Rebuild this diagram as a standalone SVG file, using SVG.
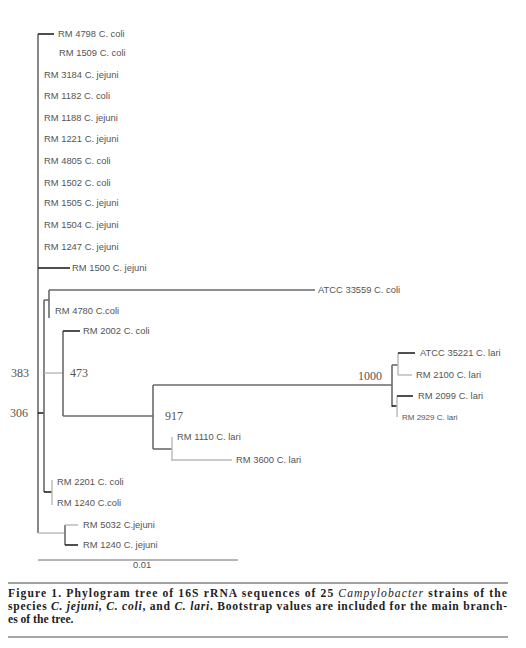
<svg xmlns="http://www.w3.org/2000/svg" width="526" height="648" viewBox="0 0 526 648">
<style>
.bg{fill:#fff}
.d{stroke:#222;stroke-width:1.6;fill:none}
.m{stroke:#6a6a6a;stroke-width:1.6;fill:none}
.l{stroke:#b8b8b8;stroke-width:1.4;fill:none}
.lab{font-family:"Liberation Sans",Arial,sans-serif;font-size:9.4px;fill:#555}
.bs{font-family:"Liberation Serif","Times New Roman",serif;font-size:12px;fill:#555}
.cap{font-family:"Liberation Serif","Times New Roman",serif;font-size:11.6px;font-weight:bold;fill:#222}
</style>
<rect class="bg" x="0" y="0" width="526" height="648"/>
<g id="connectors">
  <path class="m" d="M38 34V533"/>
  <path class="d" d="M38 34H54"/>
  <path class="d" d="M38 268H70"/>
  <path class="d" d="M38 413H44"/>
  <path class="l" d="M38 533H65"/>
  <path class="m" d="M44 300V492"/>
  <path class="m" d="M44 300H49"/>
  <path class="m" d="M49 290V318"/>
  <path class="m" d="M49 290H315"/>
  <path class="l" d="M44 373H63"/>
  <path class="m" d="M63 331V416"/>
  <path class="d" d="M63 331H80"/>
  <path class="m" d="M63 416H153"/>
  <path class="m" d="M153 385V449"/>
  <path class="m" d="M153 385H392"/>
  <path class="m" d="M153 449H172"/>
  <path class="l" d="M172 437V461"/>
  <path class="l" d="M172 460H232"/>
  <path class="m" d="M392 365V407"/>
  <path class="m" d="M392 365H398"/>
  <path class="l" d="M398 353V375"/>
  <path class="d" d="M398 353H415"/>
  <path class="l" d="M398 375H412"/>
  <path class="d" d="M392 406H397"/>
  <path class="l" d="M397 396V417"/>
  <path class="d" d="M397 396H413"/>
  <path class="d" d="M44 492H52"/>
  <path class="l" d="M52 480V505"/>
  <path class="m" d="M65 525V545"/>
  <path class="l" d="M65 525H78"/>
  <path class="d" d="M65 545H78"/>
  <path class="m" d="M38 560H238" style="stroke-width:1"/>
</g>
<g id="leaves">
  <g id="n1"><text class="lab" x="58" y="37">RM 4798 C. coli</text></g>
  <g id="n2"><text class="lab" x="59" y="56">RM 1509 C. coli</text></g>
  <g id="n3"><text class="lab" x="44" y="78">RM 3184 C. jejuni</text></g>
  <g id="n4"><text class="lab" x="44" y="99">RM 1182 C. coli</text></g>
  <g id="n5"><text class="lab" x="44" y="121">RM 1188 C. jejuni</text></g>
  <g id="n6"><text class="lab" x="44" y="142">RM 1221 C. jejuni</text></g>
  <g id="n7"><text class="lab" x="44" y="164">RM 4805 C. coli</text></g>
  <g id="n8"><text class="lab" x="44" y="186">RM 1502 C. coli</text></g>
  <g id="n9"><text class="lab" x="44" y="206">RM 1505 C. jejuni</text></g>
  <g id="n10"><text class="lab" x="44" y="228">RM 1504 C. jejuni</text></g>
  <g id="n11"><text class="lab" x="44" y="250">RM 1247 C. jejuni</text></g>
  <g id="n12"><text class="lab" x="72" y="271">RM 1500 C. jejuni</text></g>
  <g id="n13"><text class="lab" x="318" y="293">ATCC 33559 C. coli</text></g>
  <g id="n14"><text class="lab" x="55" y="314">RM 4780 C.coli</text></g>
  <g id="n15"><text class="lab" x="83" y="334">RM 2002 C. coli</text></g>
  <g id="n16"><text class="lab" x="420" y="356">ATCC 35221 C. lari</text></g>
  <g id="n17"><text class="lab" x="416" y="378">RM 2100 C. lari</text></g>
  <g id="n18"><text class="lab" x="418" y="399">RM 2099 C. lari</text></g>
  <g id="n19"><text class="lab" x="402" y="420" style="font-size:8px">RM 2929 C. lari</text></g>
  <g id="n20"><text class="lab" x="177" y="440">RM 1110 C. lari</text></g>
  <g id="n21"><text class="lab" x="236" y="463">RM 3600 C. lari</text></g>
  <g id="n22"><text class="lab" x="57" y="485">RM 2201 C. coli</text></g>
  <g id="n23"><text class="lab" x="57" y="506">RM 1240 C.coli</text></g>
  <g id="n24"><text class="lab" x="83" y="528">RM 5032 C.jejuni</text></g>
  <g id="n25"><text class="lab" x="83" y="548">RM 1240 C. jejuni</text></g>
</g>
<g id="bootstrap">
  <g id="b383"><text class="bs" x="11" y="377">383</text></g>
  <g id="b306"><text class="bs" x="10" y="417">306</text></g>
  <g id="b473"><text class="bs" x="70" y="377">473</text></g>
  <g id="b917"><text class="bs" x="165" y="420">917</text></g>
  <g id="b1000"><text class="bs" x="358" y="380">1000</text></g>
</g>
<g id="scale"><text class="lab" x="133" y="568">0.01</text></g>
<g id="caption">
  <path d="M8 583H508" stroke="#444" stroke-width="1"/>
  <text class="cap" x="8" y="597" textLength="499" lengthAdjust="spacing">Figure 1. Phylogram tree of 16S rRNA sequences of 25 <tspan font-style="italic" font-weight="normal">Campylobacter</tspan> strains of the</text>
  <text class="cap" x="8" y="610" textLength="499" lengthAdjust="spacing">species <tspan font-style="italic">C. jejuni, C. coli</tspan>, and <tspan font-style="italic">C. lari</tspan>. Bootstrap values are included for the main branch-</text>
  <text class="cap" x="8" y="623">es of the tree.</text>
  <path d="M8 637H508" stroke="#888" stroke-width="1.6"/>
</g>
</svg>
